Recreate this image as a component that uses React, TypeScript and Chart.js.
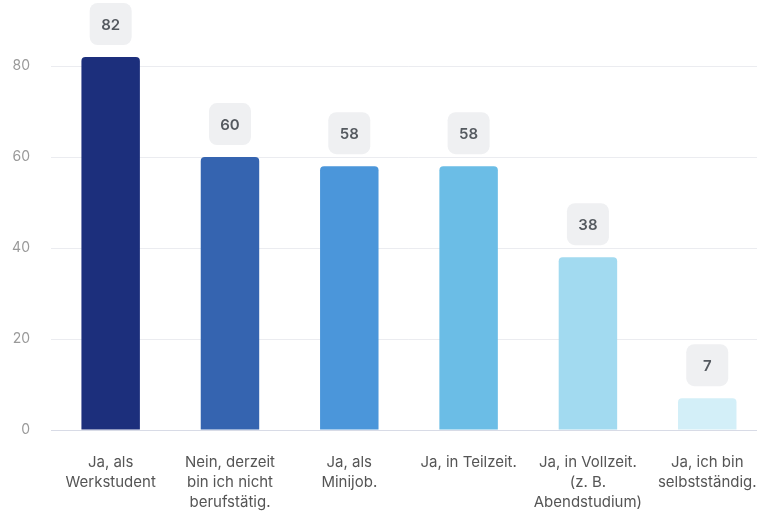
import React, { useEffect, useRef } from "react";
import { Chart, registerables } from "chart.js";

Chart.register(...registerables);

const categories: string[][] = [
  ["Ja, als", "Werkstudent"],
  ["Nein, derzeit", "bin ich nicht", "berufstätig."],
  ["Ja, als", "Minijob."],
  ["Ja, in Teilzeit."],
  ["Ja, in Vollzeit.", "(z. B.", "Abendstudium)"],
  ["Ja, ich bin", "selbstständig."],
];
const values: number[] = [82, 60, 58, 58, 38, 7];
const barColors: string[] = ["#1c2f7c", "#3564b0", "#4b96da", "#6bbde6", "#a2daf0", "#d3eff8"];
const yTicks: number[] = [0, 20, 40, 60, 80];

const FONT = "Inter, 'Noto Sans', sans-serif";

const valueBoxes = {
  id: "valueBoxes",
  afterDatasetsDraw(chart: any) {
    const ctx = chart.ctx;
    const meta = chart.getDatasetMeta(0);
    meta.data.forEach((el: any, i: number) => {
      const w = 42, h = 42, r = 8;
      const x = el.x - w / 2;
      const y = el.y - 12 - h;
      ctx.save();
      ctx.fillStyle = "#eff0f2";
      ctx.beginPath();
      ctx.roundRect(x, y, w, h, r);
      ctx.fill();
      ctx.fillStyle = "#555a60";
      ctx.font = `600 15px ${FONT}`;
      ctx.textAlign = "center";
      ctx.textBaseline = "middle";
      ctx.fillText(String(chart.data.datasets[0].data[i]), el.x, y + h / 2 + 1);
      ctx.restore();
    });
  },
};

export default function App() {
  const ref = useRef<HTMLCanvasElement>(null);
  useEffect(() => {
    if (!ref.current) return;
    const chart = new Chart(ref.current, {
      type: "bar",
      data: {
        labels: categories,
        datasets: [
          {
            data: values,
            backgroundColor: barColors,
            borderRadius: 4,
            borderSkipped: "start",
            barPercentage: 0.49,
            categoryPercentage: 1,
          },
        ],
      },
      options: {
        responsive: false,
        animation: false,
        layout: { padding: { top: 57, left: 0, right: 5, bottom: 3 } },
        plugins: { legend: { display: false }, tooltip: { enabled: false } },
        scales: {
          x: {
            afterFit: (s: any) => {
              s.height = 82;
            },
            grid: { display: false, drawTicks: false },
            border: { display: true, color: "#d8dbe6", width: 1 },
            ticks: {
              padding: 22,
              color: "#555555",
              font: { family: FONT, size: 15, lineHeight: "20px" } as any,
              maxRotation: 0,
              autoSkip: false,
            },
          },
          y: {
            min: 0,
            max: values[0],
            afterFit: (s: any) => {
              s.width = 51;
            },
            afterBuildTicks: (axis: any) => {
              axis.ticks = yTicks.map((v) => ({ value: v }));
            },
            grid: { color: "#ebecf0", drawTicks: false },
            border: { display: false },
            ticks: {
              padding: 21,
              color: "#9a9a9a",
              font: { family: FONT, size: 14 },
            },
          },
        },
      },
      plugins: [valueBoxes],
    });
    return () => chart.destroy();
  }, []);
  return (
    <div style={{ position: "fixed", left: 0, top: 0, width: 757, height: 515, overflow: "hidden", background: "#fff" }}>
      <canvas ref={ref} width={779} height={515} style={{ display: "block" }} />
    </div>
  );
}
